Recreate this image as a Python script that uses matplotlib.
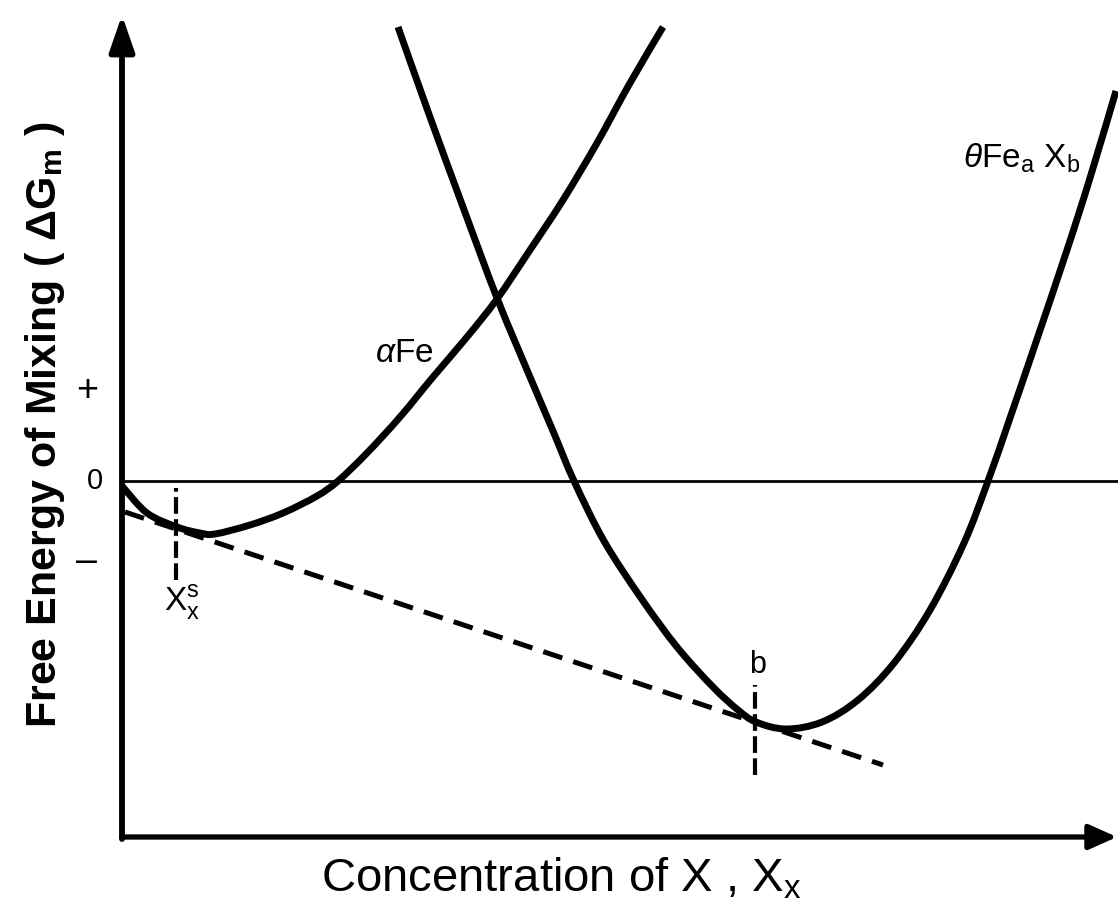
import numpy as np
import matplotlib
matplotlib.use('Agg')
import matplotlib.pyplot as plt
from matplotlib.path import Path
from matplotlib.patches import PathPatch

plt.rcParams['font.family'] = ['Liberation Sans', 'DejaVu Sans']
plt.rcParams['mathtext.fontset'] = 'custom'
plt.rcParams['mathtext.rm'] = 'Liberation Sans'
plt.rcParams['mathtext.it'] = 'Liberation Sans:italic'
plt.rcParams['mathtext.bf'] = 'Liberation Sans:bold'

# free energy curves (arbitrary units, origin at the axes corner / zero line)
alpha_x = [0.00, 0.25, 0.55, 0.78, 0.93, 1.28, 1.61, 1.95, 2.16, 2.45, 2.78,
           3.11, 3.45, 3.75, 4.08, 4.41, 4.75, 5.08, 5.41]
alpha_g = [-0.05, -0.32, -0.46, -0.52, -0.53, -0.44, -0.32, -0.15, 0.00, 0.28,
           0.64, 1.04, 1.44, 1.82, 2.31, 2.81, 3.38, 3.98, 4.54]

theta_x = [2.76, 3.08, 3.41, 3.75, 4.08, 4.31, 4.52, 4.82, 5.19, 5.55, 5.91,
           6.16, 6.34, 6.64, 7.00, 7.36, 7.72, 8.08, 8.42, 8.66, 8.88, 9.13,
           9.45, 9.68, 9.94]
theta_g = [4.54, 3.64, 2.74, 1.83, 1.04, 0.50, 0.00, -0.60, -1.17, -1.66,
           -2.06, -2.29, -2.41, -2.48, -2.41, -2.19, -1.82, -1.29, -0.62, 0.00,
           0.63, 1.36, 2.31, 3.03, 3.90]

# common tangent
tangent_x = [0.03, 7.61]
tangent_g = [-0.31, -2.84]

# marked concentrations
x_s = 0.54
x_b = 6.33


def smooth_path(xs, ys):
    # Catmull-Rom through the read points, drawn as cubic bezier pieces
    p = np.column_stack([xs, ys])
    n = len(p)
    verts = [p[0]]
    codes = [Path.MOVETO]
    for i in range(n - 1):
        p0 = p[max(i - 1, 0)]
        p1 = p[i]
        p2 = p[i + 1]
        p3 = p[min(i + 2, n - 1)]
        verts += [p1 + (p2 - p0) / 6, p2 - (p3 - p1) / 6, p2]
        codes += [Path.CURVE4] * 3
    return Path(verts, codes)


fig = plt.figure(figsize=(11.18, 9.19), dpi=100)
ax = fig.add_axes([0, 0, 1, 1])
ax.set_xlim(-1.22, 9.96)
ax.set_ylim(-4.38, 4.81)
ax.axis('off')

# axes with arrows
ax.annotate('', xy=(0, 4.66), xytext=(0, -3.58),
            arrowprops=dict(arrowstyle='-|>,head_length=1.1,head_width=0.38',
                            mutation_scale=20, lw=4.2, color='k',
                            shrinkA=0, shrinkB=0))
ax.annotate('', xy=(9.95, -3.56), xytext=(0.0, -3.56),
            arrowprops=dict(arrowstyle='-|>,head_length=0.85,head_width=0.38',
                            mutation_scale=20, lw=3.8, color='k',
                            shrinkA=0, shrinkB=0))

# zero line
ax.plot([0, 9.96], [0, 0], color='k', lw=2)

for xs, ys in [(alpha_x, alpha_g), (theta_x, theta_g)]:
    ax.add_patch(PathPatch(smooth_path(xs, ys), fill=False, edgecolor='k',
                           lw=5, capstyle='butt', joinstyle='round'))

ax.plot(tangent_x, tangent_g, color='k', lw=3.6, linestyle=(0, (4, 2.3)))
ax.vlines(x_s, -0.99, -0.07, color='k', lw=3, linestyles=[(0, (4, 1.3))])
ax.vlines(x_b, -2.94, -2.04, color='k', lw=3, linestyles=[(0, (4, 1.3))])

# tick signs
ax.text(-0.35, 0.90, '+', fontsize=27, ha='center', va='center')
ax.text(-0.27, 0.00, '0', fontsize=21, ha='center', va='center')
ax.text(-0.35, -0.81, '\u2013', fontsize=27, ha='center', va='center')

# labels
ax.text(2.82, 1.27, r'$\mathit{α}$Fe', fontsize=24, ha='center', va='center')
ax.text(9.00, 3.23, r'$\mathit{θ}$Fe$_\mathrm{a}$ X$_\mathrm{b}$', fontsize=24,
        ha='center', va='center')
ax.text(6.36, -1.84, 'b', fontsize=22, ha='center', va='center')
ax.text(0.60, -1.21, r'X$_\mathrm{x}^\mathrm{s}$', fontsize=24, ha='center',
        va='center')

ax.text(4.39, -3.98, r'Concentration of X , X$_\mathrm{x}$', fontsize=34,
        ha='center', va='center')
ax.text(-0.77, 0.56, r'Free Energy of Mixing ( ΔG$_\mathbf{m}$ )', fontsize=31,
        fontweight='bold', rotation=90, ha='center', va='center')

fig.savefig('out.png', dpi=100)
